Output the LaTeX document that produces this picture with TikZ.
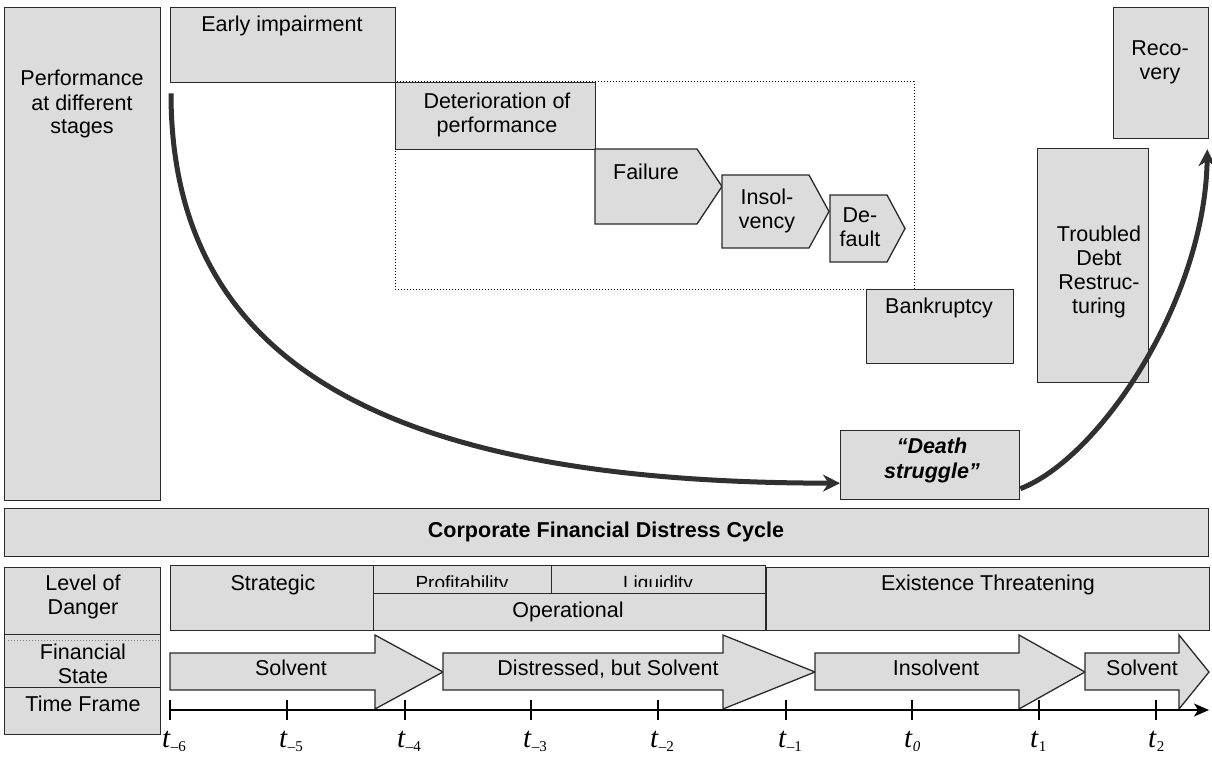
\documentclass[tikz,border=0pt]{standalone}
\usepackage{fontspec}
\setmainfont{Liberation Sans}
\newfontfamily\serifit{Liberation Serif}
\usetikzlibrary{arrows.meta}
\definecolor{boxfill}{HTML}{DCDCDC}
\definecolor{edge}{HTML}{2A2A2A}
\definecolor{curvecol}{HTML}{303030}
\newcommand\tsb[1]{\raisebox{-4pt}{\fontsize{15}{15}\selectfont #1}}
\tikzset{
  box/.style={draw=edge, fill=boxfill, line width=1.3pt, inner sep=0pt, anchor=north west},
  shp/.style={draw=edge, fill=boxfill, line width=1.3pt, line join=miter},
  lbl/.style={anchor=base, align=center, inner sep=0pt, font=\fontsize{21.5}{24}\selectfont},
  sml/.style={anchor=base, inner sep=0pt, font=\fontsize{19}{22}\selectfont},
  bigcurve/.style={draw=curvecol, line width=5pt, -{Stealth[length=17pt,width=17pt]}},
  tl/.style={anchor=base west, inner sep=0pt, font=\serifit\fontsize{29}{29}\selectfont},
  tick/.style={line width=1.3pt}
}
\begin{document}
\begin{tikzpicture}[x=1pt,y=-1pt]
\useasboundingbox (0,0) rectangle (1212,757);
% dotted frame
\draw[dotted, line width=1pt] (395,82) rectangle (914,289);
% top boxes
\node[box, minimum width=156pt, minimum height=493pt] (perf) at (4,7) {};
\node[box, minimum width=225pt, minimum height=75pt] (ei) at (170,7) {};
\node[box, minimum width=200pt, minimum height=67pt] (det) at (395,82) {};
\draw[shp] (595,149) -- (697,149) -- (722,186.5) -- (697,224) -- (595,224) -- cycle;
\draw[shp] (722,175) -- (809,175) -- (829,211.5) -- (809,248) -- (722,248) -- cycle;
\draw[shp] (830,195) -- (887,195) -- (905,228.5) -- (887,262) -- (830,262) -- cycle;
\node[box, minimum width=147pt, minimum height=74pt] (bank) at (866,289) {};
\node[box, minimum width=111pt, minimum height=234pt] (tdr) at (1037,148) {};
\node[box, minimum width=95pt, minimum height=131pt] (rec) at (1113,7) {};
\node[box, minimum width=179pt, minimum height=69pt] (ds) at (840,430) {};
% texts top (base = last line)
\node[lbl] (perfT) at (82,134) {Performance\\at different\\stages};
\node[lbl] (eiT) at (282,32) {Early impairment};
\node[lbl] (detT) at (497,132) {Deterioration of\\performance};
\node[lbl] (failT) at (646,179) {Failure};
\node[lbl] (insT) at (767,228) {Insol-\\vency};
\node[lbl] (defT) at (860,246) {De-\\fault};
\node[lbl] (bankT) at (939,313) {Bankruptcy};
\node[lbl] (tdrT) at (1099,313) {Troubled\\Debt\\Restruc-\\turing};
\node[lbl] (recT) at (1160,80) {Reco-\\very};
\node[lbl, font=\fontsize{21.5}{25}\selectfont\bfseries\itshape] (dsT) at (932,478) {“Death\\struggle”};
% curves
\draw[bigcurve] ([yshift=-10pt,xshift=1pt]ei.south west) .. controls (171,360) and (380,483) .. ([yshift=-18pt]ds.west);
\draw[bigcurve] ([yshift=-23.5pt]ds.east) .. controls (1100,458) and (1205,300) .. ([xshift=-2pt,yshift=-10pt]rec.south east);
% cycle bar
\node[box, minimum width=1204pt, minimum height=48pt] (cyc) at (4,508) {};
\node[lbl, font=\fontsize{21.5}{24}\selectfont\bfseries] (cycT) at (606,537) {Corporate Financial Distress Cycle};
% left labels bottom
\node[box, minimum width=156pt, minimum height=67pt] (lod) at (4,567) {};
\node[box, minimum width=156pt, minimum height=53pt] (fs) at (4,634) {};
\node[box, minimum width=156pt, minimum height=47pt] (tf) at (4,687) {};
\draw[gray, dotted, line width=1pt] ([xshift=4pt,yshift=-6pt]fs.north west) -- ([xshift=-2pt,yshift=-6pt]fs.north east);
\node[lbl] (lodT) at (83,614) {Level of\\Danger};
\node[lbl] (fsT) at (83,683) {Financial\\State};
\node[lbl] (tfT) at (83,711) {Time Frame};
% danger row
\node[box, minimum width=203pt, minimum height=65pt] (str) at (170,565) {};
\node[box, minimum width=178pt, minimum height=28pt] (prof) at (373,565) {};
\node[box, minimum width=214pt, minimum height=28pt] (liq) at (551,565) {};
\node[box, minimum width=392pt, minimum height=37pt] (op) at (373,593) {};
\node[box, minimum width=443pt, minimum height=63pt] (ex) at (766,567) {};
\node[lbl] (strT) at (273,590) {Strategic};
\begin{scope}
\clip (373,560) rectangle (765,586.5);
\node[sml] (profT) at (462,589) {Profitability};
\node[sml] (liqT) at (658,589) {Liquidity};
\end{scope}
\node[lbl] (opT) at (568,617) {Operational};
\node[lbl] (exT) at (988,590) {Existence Threatening};
% state arrows
\draw[shp] (170,653) -- (375,653) -- (375,635) -- (443,672) -- (375,709) -- (375,690) -- (170,690) -- cycle;
\draw[shp] (443,653) -- (723,653) -- (723,635) -- (815,672) -- (723,709) -- (723,690) -- (443,690) -- cycle;
\draw[shp] (815,653) -- (1019,653) -- (1019,635) -- (1085,672) -- (1019,709) -- (1019,690) -- (815,690) -- cycle;
\draw[shp] (1085,653) -- (1179,653) -- (1179,635) -- (1209,672) -- (1179,709) -- (1179,690) -- (1085,690) -- cycle;
\node[lbl] (s1T) at (291,675) {Solvent};
\node[lbl] (dT) at (608,675) {Distressed, but Solvent};
\node[lbl] (iT) at (936,675) {Insolvent};
\node[lbl] (s2T) at (1142,675) {Solvent};
% time axis
\coordinate (ax0) at (170,710);
\coordinate (ax1) at (1209,710);
\draw[line width=1.5pt, -{Stealth[length=15pt,width=13pt,inset=4pt]}] (ax0) -- (ax1);
\foreach \x/\n in {170/m6,287/m5,405/m4,531/m3,658/m2,786/m1,912/z,1039/p1,1156/p2}{
  \coordinate (tk\n) at (\x,710);
  \draw[tick] ([yshift=10pt]tk\n) -- ([yshift=-10pt]tk\n);
}
\node[tl] (lm6) at (162,747) {\textit{t}\tsb{–6}};
\node[tl] (lm5) at (279,747) {\textit{t}\tsb{–5}};
\node[tl] (lm4) at (397,747) {\textit{t}\tsb{–4}};
\node[tl] (lm3) at (523,747) {\textit{t}\tsb{–3}};
\node[tl] (lm2) at (650,747) {\textit{t}\tsb{–2}};
\node[tl] (lm1) at (778,747) {\textit{t}\tsb{–1}};
\node[tl] (lz) at (904,747) {\textit{t}\tsb{\textit{0}}};
\node[tl] (lp1) at (1030,747) {\textit{t}\tsb{1}};
\node[tl] (lp2) at (1148,747) {\textit{t}\tsb{2}};
\end{tikzpicture}
\end{document}
